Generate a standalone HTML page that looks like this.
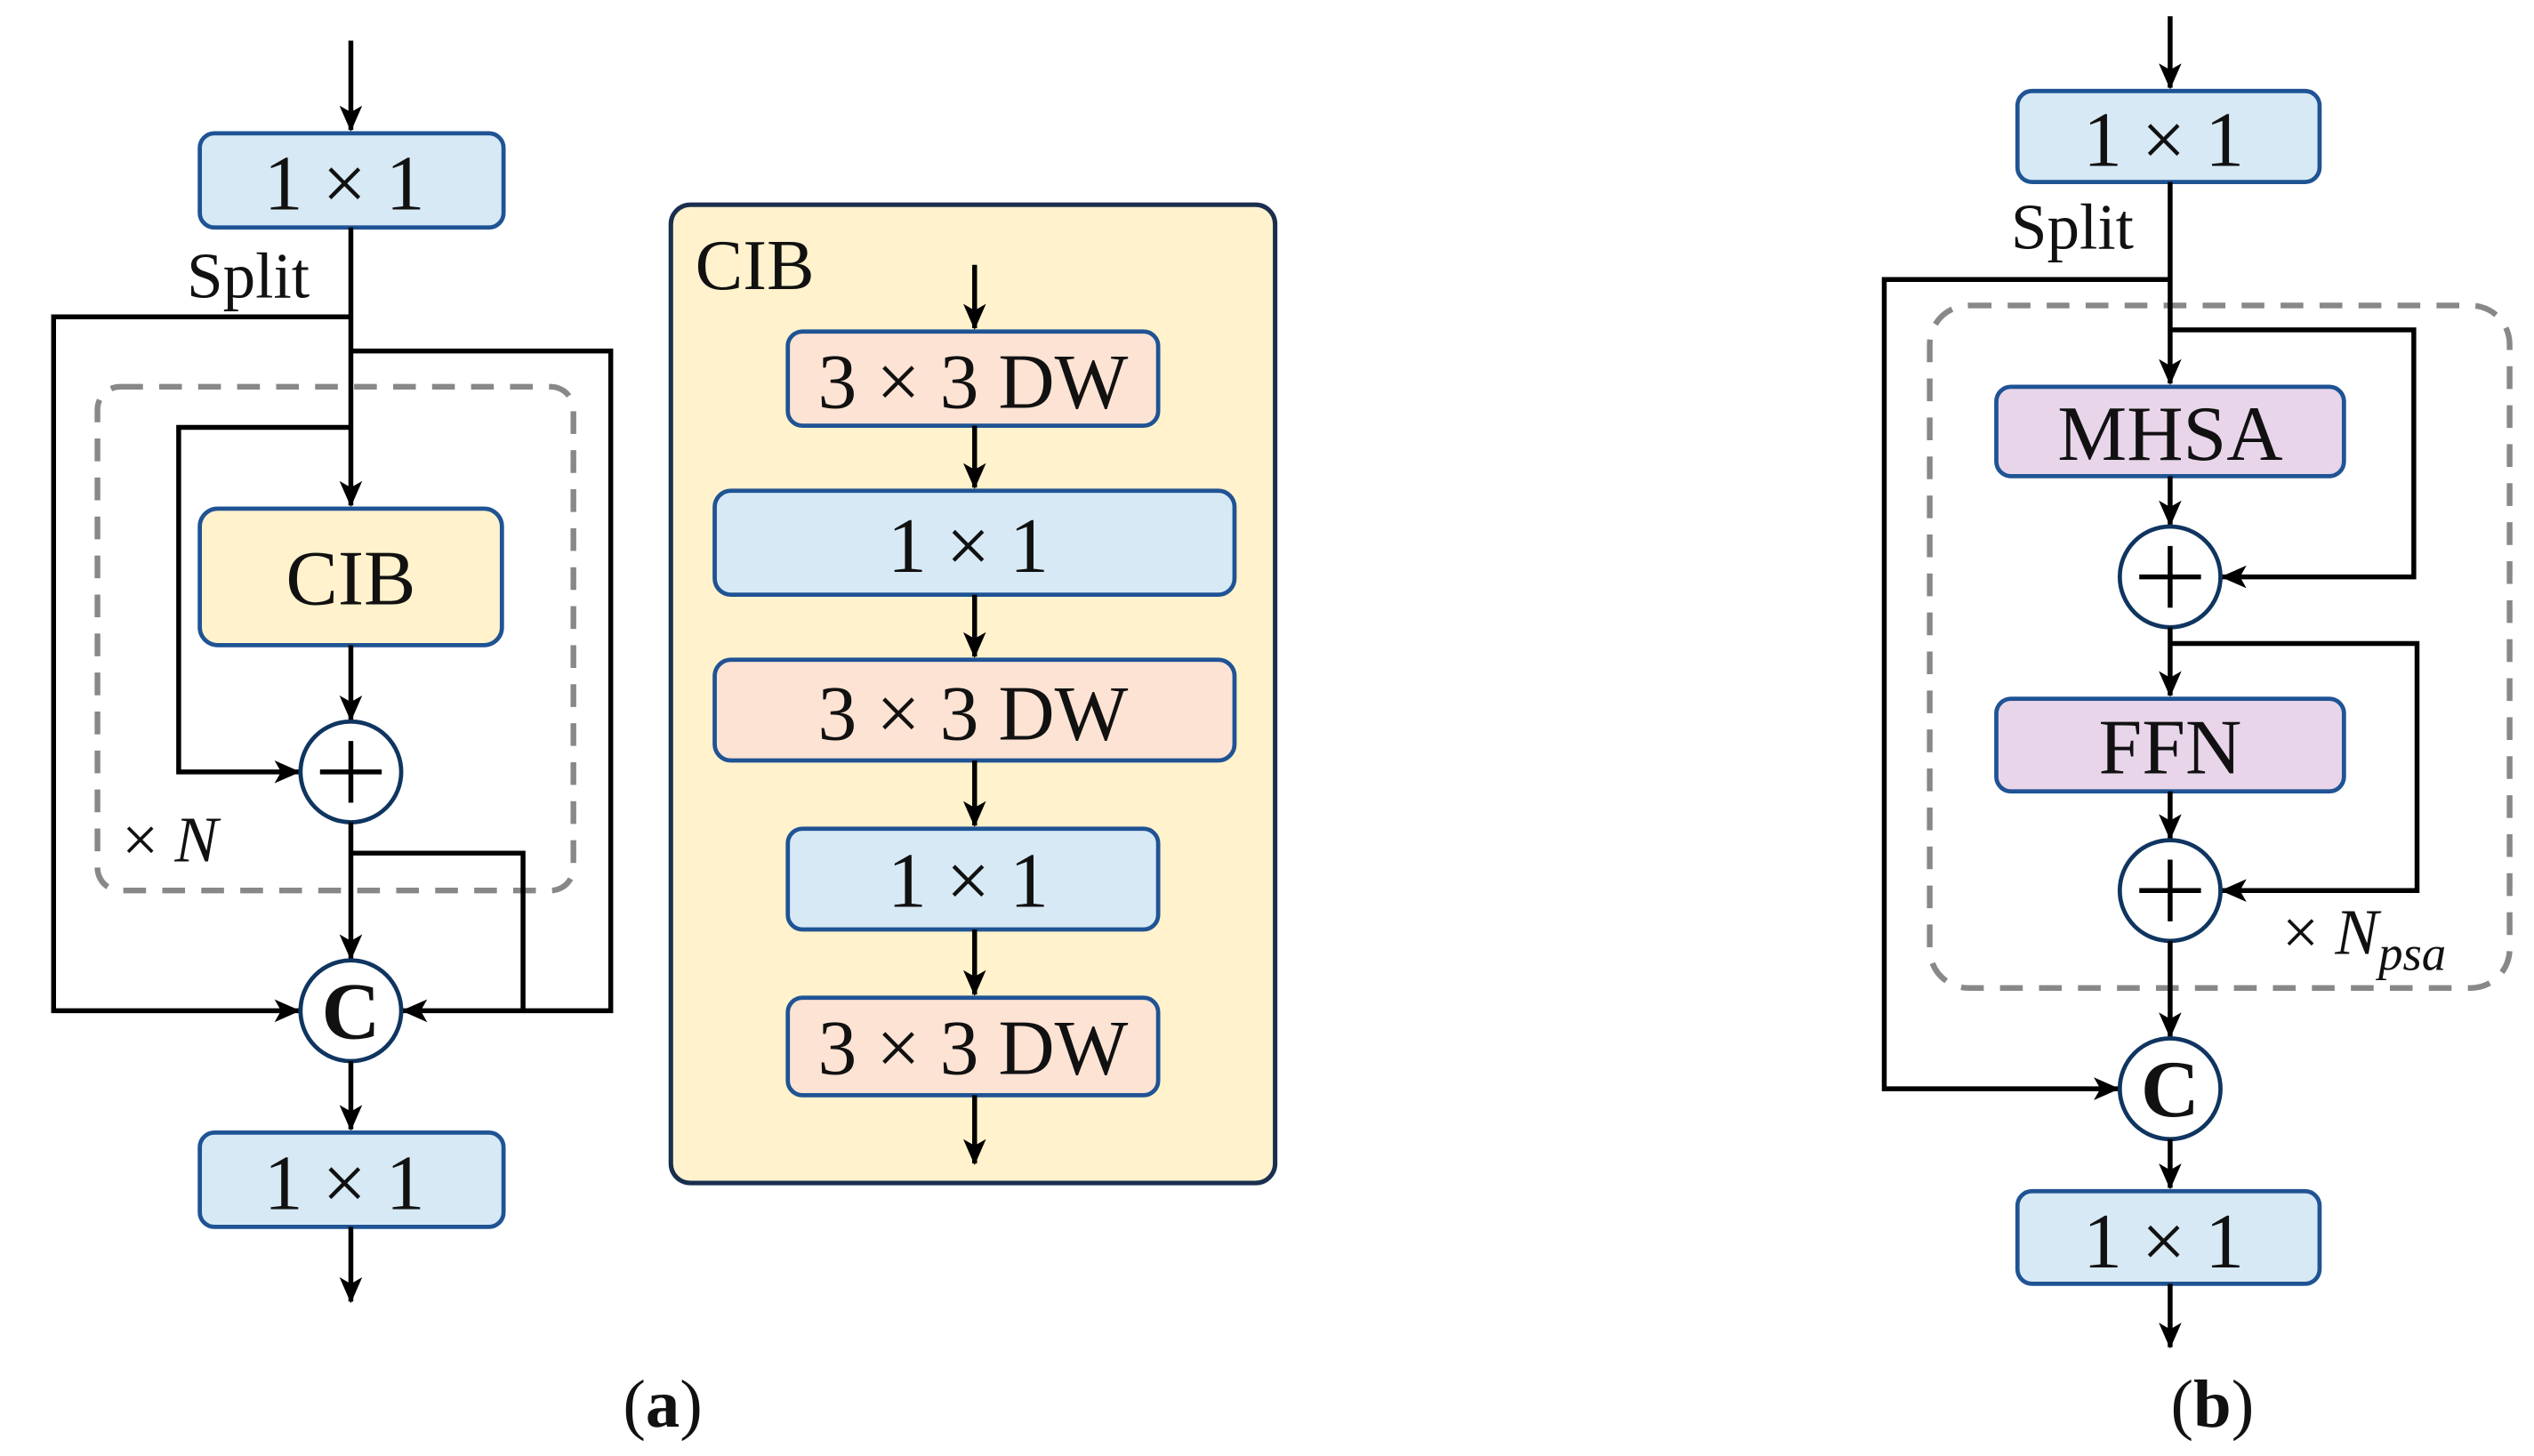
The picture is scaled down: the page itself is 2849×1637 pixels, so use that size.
<!DOCTYPE html>
<html><head><meta charset="utf-8"><style>
html,body{margin:0;padding:0;background:#fff;width:2849px;height:1637px;overflow:hidden}
svg{display:block}
svg text{font-family:"Liberation Serif","DejaVu Serif",serif !important;fill:#111}
</style></head><body>
<svg width="2849" height="1637" viewBox="0 0 1560 896" preserveAspectRatio="none" xmlns="http://www.w3.org/2000/svg" font-family="Liberation Serif, DejaVu Serif, serif">
<defs>
<marker id="a" markerWidth="16" markerHeight="16" viewBox="0 0 16 16" refX="15" refY="8" orient="auto" markerUnits="userSpaceOnUse">
<path d="M0,1 L16,8 L0,15 L4,8 Z" fill="#000"/>
</marker>
</defs>
<style>
.l{stroke:#000;stroke-width:3;fill:none}
.la{stroke:#000;stroke-width:3;fill:none;marker-end:url(#a)}
.bb{fill:#d6e9f5;stroke:#1f5394;stroke-width:2.6}
.by{fill:#fff2cc;stroke:#1f5394;stroke-width:2.6}
.bp{fill:#fde3d3;stroke:#1f5394;stroke-width:2.6}
.bm{fill:#e8d5ea;stroke:#1f5394;stroke-width:2.6}
.c{fill:#fff;stroke:#0f3560;stroke-width:2.6}
.d{fill:none;stroke:#888;stroke-width:3.5;stroke-dasharray:14 10}
.t{font-size:48px;text-anchor:middle}
</style>

<!-- LEFT (a) -->
<line class="la" x1="216" y1="25" x2="216" y2="80"/>
<rect class="bb" x="123" y="82" width="187" height="58" rx="9"/>
<text class="t" x="212" y="129">1 × 1</text>
<text x="115" y="183" style="font-size:40px">Split</text>
<rect class="d" x="60" y="238" width="293" height="310" rx="14"/>
<line class="la" x1="216" y1="140" x2="216" y2="311"/>
<polyline class="la" points="216,195 33,195 33,622 184,622"/>
<polyline class="la" points="216,216 376,216 376,622 248,622"/>
<polyline class="la" points="216,263 110,263 110,475 184,475"/>
<rect class="by" x="123" y="313" width="186" height="84" rx="11"/>
<text class="t" x="216" y="372">CIB</text>
<line class="la" x1="216" y1="397" x2="216" y2="443"/>
<circle class="c" cx="216" cy="475" r="31"/>
<line class="l" x1="197" y1="475" x2="235" y2="475"/><line class="l" x1="216" y1="456" x2="216" y2="494"/>
<text x="75" y="530" style="font-size:40px">× <tspan font-style="italic">N</tspan></text>
<line class="la" x1="216" y1="506" x2="216" y2="590"/>
<polyline class="l" points="216,525 322,525 322,622"/>
<circle class="c" cx="216" cy="622" r="31"/>
<text x="216" y="639" style="font-size:50px;font-weight:bold;text-anchor:middle">C</text>
<line class="la" x1="216" y1="653" x2="216" y2="695"/>
<rect class="bb" x="123" y="697" width="187" height="58" rx="9"/>
<text class="t" x="212" y="744">1 × 1</text>
<line class="la" x1="216" y1="755" x2="216" y2="801"/>
<text x="408" y="878" style="font-size:42px;text-anchor:middle">(<tspan font-weight="bold">a</tspan>)</text>

<!-- CIB panel -->
<rect x="413" y="126" width="372" height="602" rx="12" fill="#fff2cc" stroke="#1a2f4f" stroke-width="2.8"/>
<text x="428" y="178" style="font-size:44px">CIB</text>
<line class="la" x1="600" y1="163" x2="600" y2="202"/>
<rect class="bp" x="485" y="204" width="228" height="58" rx="9"/>
<text class="t" x="599" y="251">3 × 3 DW</text>
<line class="la" x1="600" y1="262" x2="600" y2="300"/>
<rect class="bb" x="440" y="302" width="320" height="64" rx="10"/>
<text class="t" x="596" y="352">1 × 1</text>
<line class="la" x1="600" y1="366" x2="600" y2="404"/>
<rect class="bp" x="440" y="406" width="320" height="62" rx="10"/>
<text class="t" x="599" y="455">3 × 3 DW</text>
<line class="la" x1="600" y1="468" x2="600" y2="508"/>
<rect class="bb" x="485" y="510" width="228" height="62" rx="9"/>
<text class="t" x="596" y="558">1 × 1</text>
<line class="la" x1="600" y1="572" x2="600" y2="612"/>
<rect class="bp" x="485" y="614" width="228" height="60" rx="9"/>
<text class="t" x="599" y="661">3 × 3 DW</text>
<line class="la" x1="600" y1="674" x2="600" y2="716"/>

<!-- RIGHT (b) -->
<line class="la" x1="1336" y1="10" x2="1336" y2="54"/>
<rect class="bb" x="1242" y="56" width="186" height="56" rx="9"/>
<text class="t" x="1332" y="102">1 × 1</text>
<text x="1238" y="153" style="font-size:40px">Split</text>
<rect class="d" x="1188" y="188" width="357" height="420" rx="24"/>
<line class="la" x1="1336" y1="112" x2="1336" y2="236"/>
<polyline class="la" points="1336,172 1160,172 1160,670 1304,670"/>
<polyline class="la" points="1336,203 1486,203 1486,355 1368,355"/>
<rect class="bm" x="1229" y="238" width="214" height="55" rx="9"/>
<text class="t" x="1336" y="283">MHSA</text>
<line class="la" x1="1336" y1="293" x2="1336" y2="323"/>
<circle class="c" cx="1336" cy="355" r="31"/>
<line class="l" x1="1317" y1="355" x2="1355" y2="355"/><line class="l" x1="1336" y1="336" x2="1336" y2="374"/>
<line class="la" x1="1336" y1="386" x2="1336" y2="428"/>
<polyline class="la" points="1336,396 1488,396 1488,548 1368,548"/>
<rect class="bm" x="1229" y="430" width="214" height="57" rx="9"/>
<text class="t" x="1336" y="476">FFN</text>
<line class="la" x1="1336" y1="487" x2="1336" y2="516"/>
<circle class="c" cx="1336" cy="548" r="31"/>
<line class="l" x1="1317" y1="548" x2="1355" y2="548"/><line class="l" x1="1336" y1="529" x2="1336" y2="567"/>
<text x="1405" y="587" style="font-size:40px">× <tspan font-style="italic">N</tspan><tspan font-style="italic" font-size="30" dy="10">psa</tspan></text>
<line class="la" x1="1336" y1="579" x2="1336" y2="638"/>
<circle class="c" cx="1336" cy="670" r="31"/>
<text x="1336" y="687" style="font-size:50px;font-weight:bold;text-anchor:middle">C</text>
<line class="la" x1="1336" y1="701" x2="1336" y2="731"/>
<rect class="bb" x="1242" y="733" width="186" height="57" rx="9"/>
<text class="t" x="1332" y="780">1 × 1</text>
<line class="la" x1="1336" y1="790" x2="1336" y2="829"/>
<text x="1362" y="878" style="font-size:42px;text-anchor:middle">(<tspan font-weight="bold">b</tspan>)</text>
</svg>
</body></html>
